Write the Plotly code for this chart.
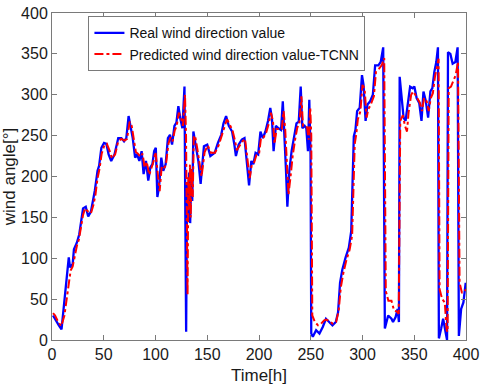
import plotly.graph_objects as go

# Real wind direction (blue)
real_x = [1, 3.5, 6.6, 9.2, 11.4, 13.6, 15.5, 16.2, 17.4, 20, 21.2, 24, 26.3, 28.2, 30, 32.6, 35, 37.6, 40, 41.4,
          44, 45.5, 47.7, 50.3, 52.5, 54.7, 57.2, 60.4, 64, 67, 69.6, 71.8, 74, 76, 78, 80.3, 82.2, 84.4, 86.6, 88.5,
          90.8, 93, 95, 97, 98.7, 100.3, 101.8, 103.4, 105.6, 107.5, 109.8, 112, 114, 116, 118.3, 120.2, 122.1, 124,
          126, 128, 129.6, 130.5, 131.5, 132.5, 133.5, 134.5, 135.5, 136.6, 138.2, 139.8, 141.4, 143.6, 146.8, 150,
          153, 157.2, 160.3, 163.5, 165.7, 168.2, 170.8, 174, 176.2, 177.7, 180.3, 183.4, 186, 188.2, 190.4, 192.6,
          194.5, 196.7, 199.2, 201.4, 203.7, 206.2, 208.7, 210.9, 212.5, 214.1, 216.3, 218.9, 221.3, 223, 224.6,
          226.1, 227.4, 229.3, 231.5, 234, 236.2, 238.4, 240.3, 241.9, 244.1, 245.7, 247.3, 248.6, 249.8, 250.5,
          252, 255.2, 258.4, 261.6, 264.7, 267.8, 271, 274.2, 276.4, 278.3, 280.5, 283.7, 286.8, 289.1, 290.3,
          291.6, 293.2, 294.8, 297.3, 299.5, 301, 303, 304.8, 307.4, 310, 312.2, 315.3, 317.6, 320, 321.6, 324.8,
          328, 329.5, 332, 333.9, 335.2, 335.9, 337.8, 339.7, 341.6, 343.7, 346, 348.5, 350.1, 352.3, 354.8, 357,
          358.9, 361.2, 363.4, 365.6, 367.5, 369.4, 371.3, 372.9, 373.8, 376, 377.9, 380.2, 381.7, 382.6, 384.9,
          387.1, 389.7, 391.9, 393.1, 395.3, 397.5, 399.7]
real_y = [30, 24, 18, 13, 40, 64, 84, 101, 89, 93, 111, 119, 129, 147, 161, 163, 151, 157, 171, 183,
          207, 213, 235, 241, 240, 227, 219, 227, 247, 247, 243, 247, 274, 262, 247, 223, 227, 219, 231, 203,
          219, 195, 211, 215, 231, 235, 175, 187, 223, 207, 215, 247, 251, 239, 262, 266, 286, 271,
          259, 310, 10, 190, 150, 205, 143, 200, 170, 255, 245, 231, 219, 191, 237, 239,
          225, 229, 241, 251, 265, 274, 262, 255, 239, 225, 239, 245, 247, 215, 189, 219,
          215, 229, 227, 255, 247, 255, 268, 284, 271, 231, 262, 259, 257, 292, 255,
          207, 163, 207, 231, 251, 265, 267, 310, 259, 262, 259, 231, 294, 227, 8,
          4, 12, 8, 16, 26, 22, 18, 22, 34, 70, 86, 101, 113, 133, 189,
          249, 257, 280, 284, 324, 312, 268, 288, 292, 300, 336, 336, 340, 358, 14, 30,
          26, 22, 28, 38, 22, 322, 296, 272, 268, 288, 310, 308, 310, 296, 290, 268,
          304, 292, 272, 304, 308, 328, 340, 358, 2, 14, 26, 10, 0, 352, 350,
          338, 340, 358, 5, 38, 46, 70]

# Predicted wind direction (red, TCNN)
pred_x = [1, 3, 6, 9, 12, 14, 16, 18, 20, 22, 24, 26, 28, 30, 32, 35, 37.6, 40, 42, 44, 46, 48, 50.5, 53, 55.5,
          58, 61, 64, 67, 70, 72.5, 75, 77, 79, 81, 83, 85.5, 87.5, 89.5, 91.5, 94, 96, 98, 100, 102, 104, 106,
          108, 110, 112.5, 114.5, 116.5, 118.5, 120.5, 122.5, 124.5, 126.5, 128.5, 129.5, 130.5, 131, 131.7,
          132.5, 133.3, 134, 135, 136, 137, 138.5, 140.5, 142, 144.5, 147.5, 150.5, 153.5, 157.5, 161, 164,
          166.5, 169, 171.5, 174.5, 177, 178.5, 181, 184, 186.5, 189, 191, 193, 195, 197.5, 200, 202, 204.5,
          207, 209.5, 211.5, 213.5, 215, 217, 219.5, 222, 223.8, 225.3, 227, 228.5, 230.5, 232.5, 235, 237,
          239, 241, 242.5, 245, 246.5, 248, 249.5, 250.5, 251.5, 254, 257, 260, 263, 265, 268, 271, 274.5,
          277, 279, 281.5, 284.5, 287.5, 290, 291, 292.5, 294, 295.5, 298, 300, 302, 304, 305.5, 308, 311,
          313, 316, 318.5, 321, 322.5, 325, 328, 330.5, 333, 335, 336.5, 339, 341, 343, 344.5, 347, 349, 351,
          353, 355.5, 357.5, 359.5, 362, 364, 366, 368, 370, 372, 373.5, 374.5, 377, 379.5, 381.3, 382.2,
          383.3, 385.5, 388, 390, 392.3, 393.8, 396, 398, 400]
pred_y = [33, 30, 22, 17, 30, 50, 72, 85, 90, 103, 115, 123, 137, 153, 161, 157, 155, 165, 178, 198, 210, 228,
          238, 240, 232, 222, 227, 243, 246, 244, 246, 267, 262, 247, 230, 228, 224, 228, 211, 218, 202, 210,
          218, 230, 205, 182, 212, 210, 214, 240, 248, 243, 256, 262, 278, 272, 262, 300, 250, 150, 55, 200,
          160, 215, 150, 210, 175, 250, 248, 233, 222, 200, 230, 238, 229, 229, 238, 249, 260, 270, 264, 256,
          243, 232, 237, 243, 246, 222, 198, 214, 216, 226, 227, 248, 248, 254, 265, 278, 268, 240, 258, 258,
          258, 280, 258, 215, 178, 200, 225, 246, 260, 264, 298, 262, 262, 260, 245, 285, 250, 30, 22, 18,
          20, 24, 25, 23, 20, 22, 36, 64, 82, 98, 110, 128, 180, 240, 252, 270, 280, 312, 308, 272, 282,
          288, 298, 328, 332, 336, 345, 60, 48, 48, 36, 35, 32, 268, 275, 262, 255, 278, 300, 304, 300, 296,
          290, 280, 296, 292, 280, 296, 302, 322, 335, 344, 62, 50, 46, 12, 10, 308, 310, 318, 324, 340, 70,
          58, 58, 62]

x_ticks = [0, 50, 100, 150, 200, 250, 300, 350, 400]
y_ticks = [0, 50, 100, 150, 200, 250, 300, 350, 400]

fig = go.Figure()
fig.add_trace(go.Scatter(x=real_x, y=real_y, mode="lines", name="Real wind direction value",
                         line=dict(color="#0000FF", width=2.3)))
fig.add_trace(go.Scatter(x=pred_x, y=pred_y, mode="lines", name="Predicted wind direction value-TCNN",
                         line=dict(color="#FF0000", width=2, dash="dashdot")))

axis_common = dict(showline=True, linecolor="#7a7a7a", linewidth=1, mirror="ticks", ticks="inside",
                   ticklen=5, tickcolor="#7a7a7a", showgrid=False, zeroline=False,
                   ticklabeloverflow="allow",
                   tickfont=dict(family="Arial, Liberation Sans", size=16, color="#1a1a1a"))

fig.update_layout(
    width=484, height=386,
    margin=dict(l=51, r=11, t=5, b=46),
    paper_bgcolor="white", plot_bgcolor="white",
    font=dict(family="Arial, Liberation Sans", color="#1a1a1a"),
    xaxis=dict(range=[0, 400], tickvals=x_ticks,
               title=dict(text="Time[h]", font=dict(size=17), standoff=6), **axis_common),
    yaxis=dict(range=[0, 400], tickvals=y_ticks,
               title=dict(text="wind angle[°]", font=dict(size=17), standoff=4), **axis_common),
    legend=dict(x=0.088, y=0.99, xanchor="left", yanchor="top", bgcolor="white",
                bordercolor="#7a7a7a", borderwidth=1, font=dict(size=14, color="#111"),
                tracegroupgap=0, itemwidth=30),
    showlegend=True,
)

fig.write_html("out.html", config={"displayModeBar": False},
               post_script="document.body.style.margin='0';")
